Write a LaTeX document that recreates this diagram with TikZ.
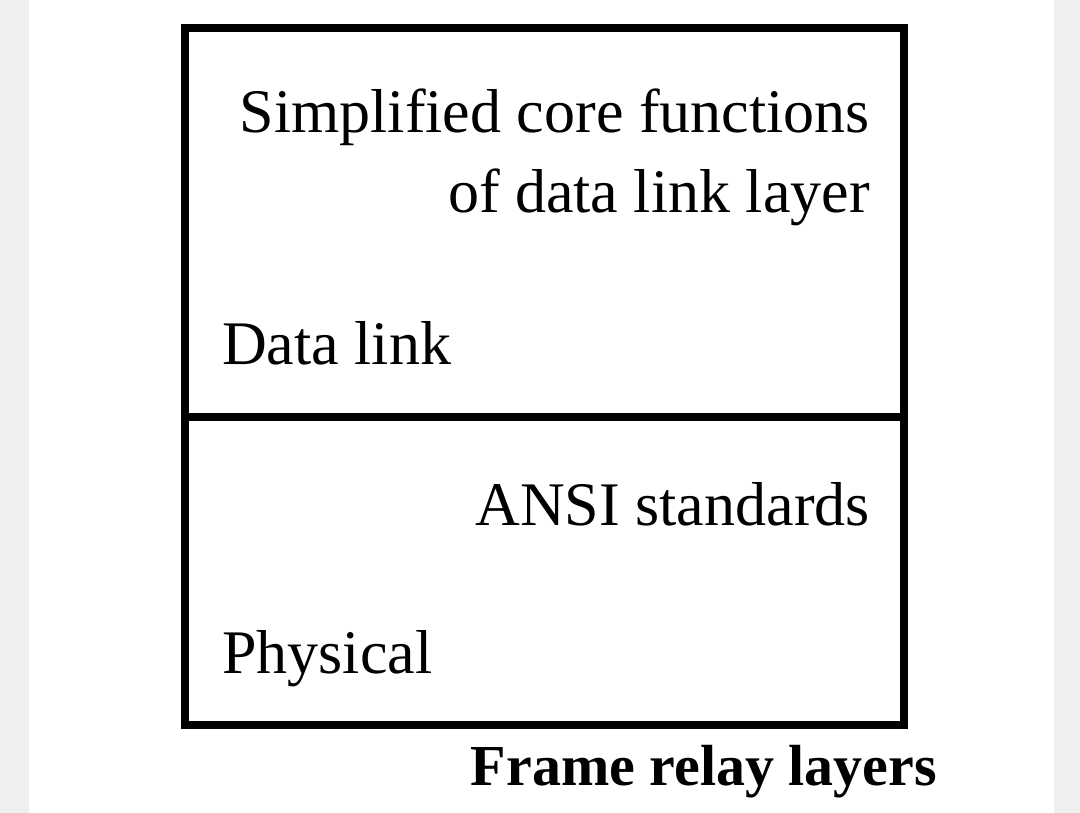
\documentclass[tikz,border=0pt]{standalone}
\usepackage{fontspec}
\setmainfont{Liberation Serif}
\definecolor{bandgray}{HTML}{EFEFEF}
\tikzset{
  layerline/.style={line width=8pt, line cap=rect, line join=miter},
  bodytext/.style={inner sep=0pt, font=\fontsize{62}{74}\selectfont},
  titletext/.style={inner sep=0pt, font=\fontsize{58}{70}\selectfont\bfseries},
}
\begin{document}
\begin{tikzpicture}[x=1pt,y=-1pt]
\useasboundingbox (0,0) rectangle (1080,813);
\fill[bandgray] (0,0) rectangle (29,813);
\fill[bandgray] (1054,0) rectangle (1080,813);
\coordinate (tl) at (185,28);
\coordinate (br) at (904,725);
\coordinate (dl) at (185,417);
\coordinate (dr) at (904,417);
\draw[layerline] (tl) rectangle (br);
\draw[layerline] (dl) -- (dr);
\node[bodytext, anchor=base east] (s1) at (870,133) {Simplified core functions};
\node[bodytext, anchor=base east] (s2) at (870,213) {of data link layer};
\node[bodytext, anchor=base west] (dlk) at (222,365) {Data link};
\node[bodytext, anchor=base east] (ansi) at (870,525) {ANSI standards};
\node[bodytext, anchor=base west] (phy) at (222,673) {Physical};
\node[titletext, anchor=base east] (cap) at (937,785) {Frame relay layers};
\end{tikzpicture}
\end{document}
